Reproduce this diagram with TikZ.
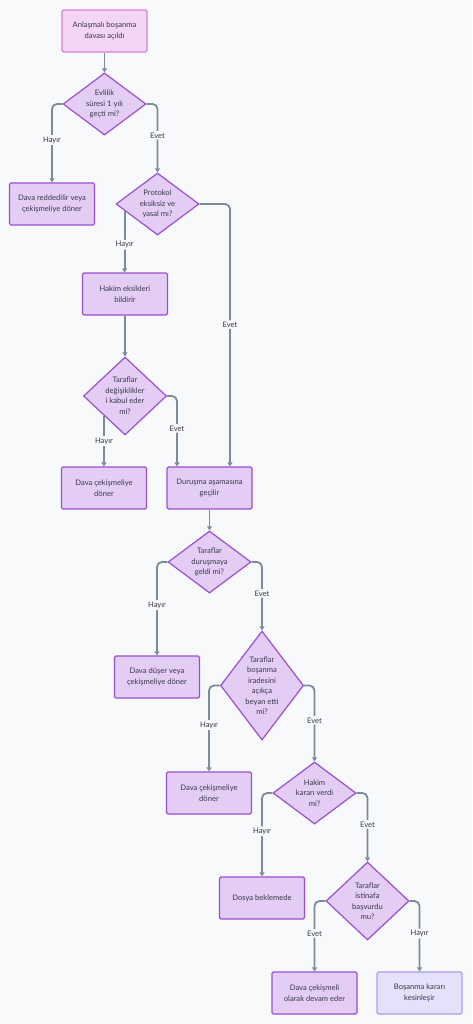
\documentclass[tikz,border=0pt]{standalone}
\usepackage{fontspec}
\setmainfont{Lato}
\usepackage{xcolor}
\usepackage{tikz}
\usetikzlibrary{shapes.geometric,arrows.meta,calc,positioning}

\definecolor{bgcol}{HTML}{F8F9FA}
\definecolor{boxfill}{HTML}{E4CDF4}
\definecolor{boxline}{HTML}{9A4ED6}
\definecolor{startfill}{HTML}{F3D5F5}
\definecolor{startline}{HTML}{D77EE0}
\definecolor{endfill}{HTML}{E4E1FB}
\definecolor{endline}{HTML}{A89CF5}
\definecolor{edgecol}{HTML}{7C8B99}
\definecolor{txtcol}{HTML}{38384A}

\begin{document}
\begin{tikzpicture}[x=1pt, y=-1pt,
 font=\fontsize{7.6}{10.5}\selectfont,
 box/.style={draw=boxline, fill=boxfill, line width=1.2pt, rounded corners=1.5pt,
  minimum width=85pt, minimum height=42pt, align=center, text=txtcol},
 startbox/.style={box, draw=startline, fill=startfill},
 endbox/.style={box, draw=endline, fill=endfill},
 decision/.style={diamond, draw=boxline, fill=boxfill, line width=1.2pt, inner sep=-20pt,
  minimum width=83pt, minimum height=62pt, align=center, text=txtcol},
 flow/.style={draw=edgecol, line width=1.8pt, rounded corners=5pt, -{Triangle[length=4pt,width=5pt]}},
 lbl/.style={fill=bgcol, inner sep=1.5pt, text=txtcol, pos=0.73}]
% Canvas
\useasboundingbox (0,0) rectangle (472,1024);
\fill[bgcol] (0,0) rectangle (472,1024);

% Nodes
\node[startbox] (start) at (104.5,31) {Anlaşmalı boşanma\\davası açıldı};
\node[decision] (d1) at (104.5,104) {Evlilik\\süresi 1 yılı\\geçti mi?};
\node[box] (red) at (52,204) {Dava reddedilir veya\\çekişmeliye döner};
\node[decision] (d2) at (157.5,204) {Protokol\\eksiksiz ve\\yasal mı?};
\node[box] (eksik) at (125,294) {Hakim eksikleri\\bildirir};
\node[decision, minimum height=78pt] (d3) at (125,396) {Taraflar\\değişiklikler\\i kabul eder\\mi?};
\node[box] (cek1) at (104,488) {Dava çekişmeliye\\döner};
\node[box] (durusma) at (209.5,488) {Duruşma aşamasına\\geçilir};
\node[decision] (d4) at (209.5,562) {Taraflar\\duruşmaya\\geldi mi?};
\node[box] (duser) at (157,677) {Dava düşer veya\\çekişmeliye döner};
\node[decision, minimum height=109pt] (d5) at (262,685.5) {Taraflar\\boşanma\\iradesini\\açıkça\\beyan etti\\mi?};
\node[box] (cek2) at (209,793) {Dava çekişmeliye\\döner};
\node[decision] (d6) at (314.5,793) {Hakim\\kararı verdi\\mi?};
\node[box] (dosya) at (262,898) {Dosya beklemede};
\node[decision, minimum height=78pt] (d7) at (367.5,901) {Taraflar\\istinafa\\başvurdu\\mu?};
\node[box] (devam) at (314.5,993) {Dava çekişmeli\\olarak devam eder};
\node[endbox] (kesin) at (419.5,993) {Boşanma kararı\\kesinleşir};

% Edges
\draw[flow] (start) -- (d1);
\draw[flow] (d1.west) -| node[lbl] {Hayır} (red);
\draw[flow] (d1.east) -| node[lbl] {Evet} (d2);
\draw[flow] ($(d2.west)!0.22!(d2.south)$) coordinate (d2h)
  -- node[lbl, pos=0.55] {Hayır} (d2h |- eksik.north);
\draw[flow] (d2.east) -| node[lbl] {Evet} ([xshift=20.5pt]durusma.north);
\draw[flow] (eksik) -- (d3);
\draw[flow] (d3.south west) -- node[lbl, pos=0.5] {Hayır} (d3.south west |- cek1.north);
\draw[flow] (d3.east) -| node[lbl] {Evet} ([xshift=-32.5pt]durusma.north);
\draw[flow] (durusma) -- (d4);
\draw[flow] (d4.west) -| node[lbl] {Hayır} (duser);
\draw[flow] (d4.east) -| node[lbl] {Evet} (d5);
\draw[flow] (d5.west) -| node[lbl] {Hayır} (cek2);
\draw[flow] (d5.east) -| node[lbl] {Evet} (d6);
\draw[flow] (d6.west) -| node[lbl] {Hayır} (dosya);
\draw[flow] (d6.east) -| node[lbl] {Evet} (d7);
\draw[flow] (d7.west) -| node[lbl] {Evet} (devam);
\draw[flow] (d7.east) -| node[lbl] {Hayır} (kesin);
\end{tikzpicture}
\end{document}
